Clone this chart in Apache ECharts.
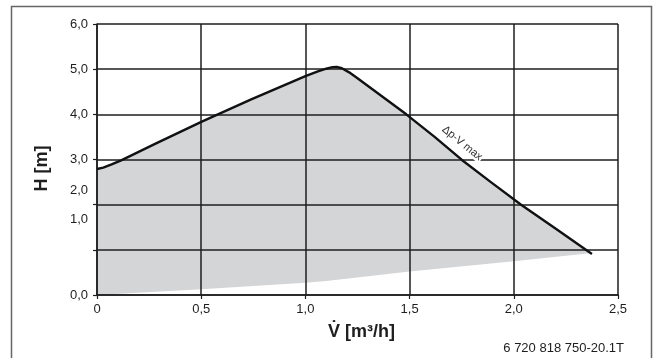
<!DOCTYPE html>
<html>
<head>
<meta charset="utf-8">
<script src="https://cdn.jsdelivr.net/npm/echarts@6/dist/echarts.min.js"></script>
<style>
html,body{margin:0;padding:0;background:#fff;}
#chart{width:660px;height:358px;}
</style>
</head>
<body>
<div id="chart"></div>
<script>
// Flow (m³/h) and head (m) of the upper curve Δp-V max
const flowTop = [0, 0.03, 0.07, 0.116, 0.281, 0.503, 0.740, 1.003, 1.06, 1.10, 1.13, 1.15, 1.175, 1.21, 1.25, 1.484, 1.62, 1.751, 1.89, 2.035, 2.2, 2.375];
const headTop = [2.79, 2.82, 2.89, 2.98, 3.35, 3.84, 4.33, 4.85, 4.95, 5.01, 5.045, 5.05, 5.02, 4.93, 4.80, 4.00, 3.50, 2.99, 2.50, 2.00, 1.47, 0.91];
// Lower boundary of the grey operating range
const flowBottom = [0, 0.5, 1.0, 1.1, 1.5, 2.0, 2.375];
const headBottom = [0, 0.13, 0.27, 0.31, 0.52, 0.75, 0.93];
// Tick labels
const xTickLabels = ['0', '0,5', '1,0', '1,5', '2,0', '2,5'];
const yTickLabels = ['0,0', '', '{a|2,0}\n{a|1,0}', '3,0', '4,0', '5,0', '6,0'];
const curveLabel = 'Δp-V max';
const curveLabelAt = [1.752, 3.36];
const footnote = '6 720 818 750-20.1T';

const topData = flowTop.map((x, i) => [x, headTop[i]]);
const bottomData = flowBottom.map((x, i) => [x, headBottom[i]]);

const chart = echarts.init(document.getElementById('chart'), null, {renderer: 'canvas'});
const font = 'Liberation Sans, Arial, Helvetica, sans-serif';
const ink = '#1e1e1e';

chart.setOption({
  animation: false,
  backgroundColor: '#fff',
  grid: {left: 97, right: 42, top: 24, bottom: 63, containLabel: false},
  xAxis: {
    type: 'value', min: 0, max: 2.5, interval: 0.5, z: 5,
    name: 'V\u0307 [m³/h]', nameLocation: 'middle', nameGap: 28,
    nameTextStyle: {fontFamily: font, fontWeight: 'bold', fontSize: 18, color: ink, padding: [0, 0, 0, 8]},
    axisLine: {show: true, lineStyle: {color: ink, width: 1.5}},
    axisTick: {show: true, length: 4, lineStyle: {color: ink, width: 1.2}},
    axisLabel: {margin: 8, fontFamily: font, fontSize: 13, color: ink,
      formatter: v => xTickLabels[Math.round(v / 0.5)]},
    splitLine: {show: true, lineStyle: {color: ink, width: 1.5}}
  },
  yAxis: {
    type: 'value', min: 0, max: 6, interval: 1, z: 5,
    name: 'H [m]', nameLocation: 'middle', nameGap: 46,
    nameTextStyle: {fontFamily: font, fontWeight: 'bold', fontSize: 18, color: ink, padding: [0, 18, 0, 0]},
    axisLine: {show: true, lineStyle: {color: ink, width: 1.5}},
    axisTick: {show: true, length: 4, lineStyle: {color: ink, width: 1.2}},
    axisLabel: {margin: 9, fontFamily: font, fontSize: 13, color: ink,
      formatter: v => yTickLabels[Math.round(v)],
      rich: {a: {fontFamily: font, fontSize: 13, color: ink, lineHeight: 29}}},
    splitLine: {show: true, lineStyle: {color: ink, width: 1.5}}
  },
  graphic: [
    {type: 'rect', shape: {x: 11.5, y: 6.5, width: 640, height: 360}, style: {fill: 'none', stroke: '#666', lineWidth: 1.5}, z: 0, silent: true},
    {type: 'text', right: 36, top: 342, style: {text: footnote, font: '13px ' + font, fill: ink}, z: 10}
  ],
  series: [
    {
      type: 'custom', z: 1, silent: true,
      data: [0],
      renderItem: (params, api) => {
        const pts = topData.map(p => api.coord(p))
          .concat(bottomData.slice().reverse().map(p => api.coord(p)));
        return {type: 'polygon', shape: {points: pts}, style: {fill: '#d4d5d7', stroke: null}};
      }
    },
    {
      type: 'line', z: 6, data: topData, showSymbol: false, smooth: false,
      lineStyle: {color: '#111', width: 2.4, join: 'round'},
      markPoint: {
        symbol: 'circle', symbolSize: 0,
        data: [{coord: curveLabelAt}],
        label: {show: true, position: 'inside', formatter: curveLabel, rotate: -39,
          fontFamily: font, fontSize: 11, color: '#333', backgroundColor: '#fff', padding: [0, 1]}
      }
    }
  ]
});
</script>
</body>
</html>
